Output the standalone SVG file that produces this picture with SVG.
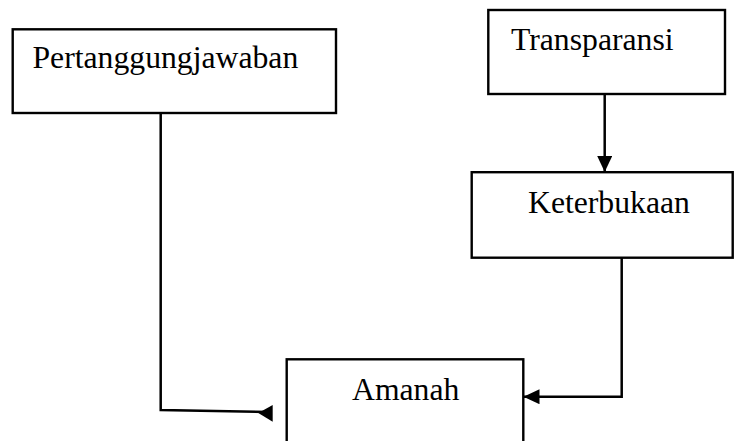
<svg xmlns="http://www.w3.org/2000/svg" width="734" height="441" viewBox="0 0 734 441">
<style>
.box{fill:#fff;stroke:#000;stroke-width:2.4}
.lbl{font-family:"Liberation Serif","Times New Roman",serif;font-size:31.7px;fill:#000}
.con{fill:none;stroke:#000;stroke-width:2.5}
.head{fill:#000;stroke:none}
</style>
<defs>
<marker id="arr" viewBox="0 0 16 15" refX="16" refY="7.5" markerWidth="16" markerHeight="15" markerUnits="userSpaceOnUse" orient="auto">
<path d="M0,0 L16,7.5 L0,15 Z" fill="#000"/>
</marker>
</defs>
<rect width="734" height="441" fill="#fff"/>
<g id="connectors">
<line class="con" x1="604.7" y1="94" x2="604.7" y2="172" marker-end="url(#arr)"/>
<polyline class="con" points="621.7,258 621.7,396.7 523.5,396.7" marker-end="url(#arr)"/>
<polyline class="con" points="160.7,113 160.7,410 272,412"/>
<polygon class="head" points="272.7,405 272.7,421.7 258.3,413"/>
</g>
<g id="node-pertanggungjawaban">
<rect class="box" x="12.7" y="29.3" width="323.3" height="83.7"/>
<text class="lbl" x="32.5" y="68.3">Pertanggungjawaban</text>
</g>
<g id="node-transparansi">
<rect class="box" x="488.3" y="10" width="236.7" height="84"/>
<text class="lbl" x="511" y="50">Transparansi</text>
</g>
<g id="node-keterbukaan">
<rect class="box" x="471.7" y="172.2" width="261" height="85.5"/>
<text class="lbl" x="528" y="212.7">Keterbukaan</text>
</g>
<g id="node-amanah">
<rect class="box" x="286.7" y="359.3" width="236.6" height="90"/>
<text class="lbl" x="352" y="400">Amanah</text>
</g>
</svg>
